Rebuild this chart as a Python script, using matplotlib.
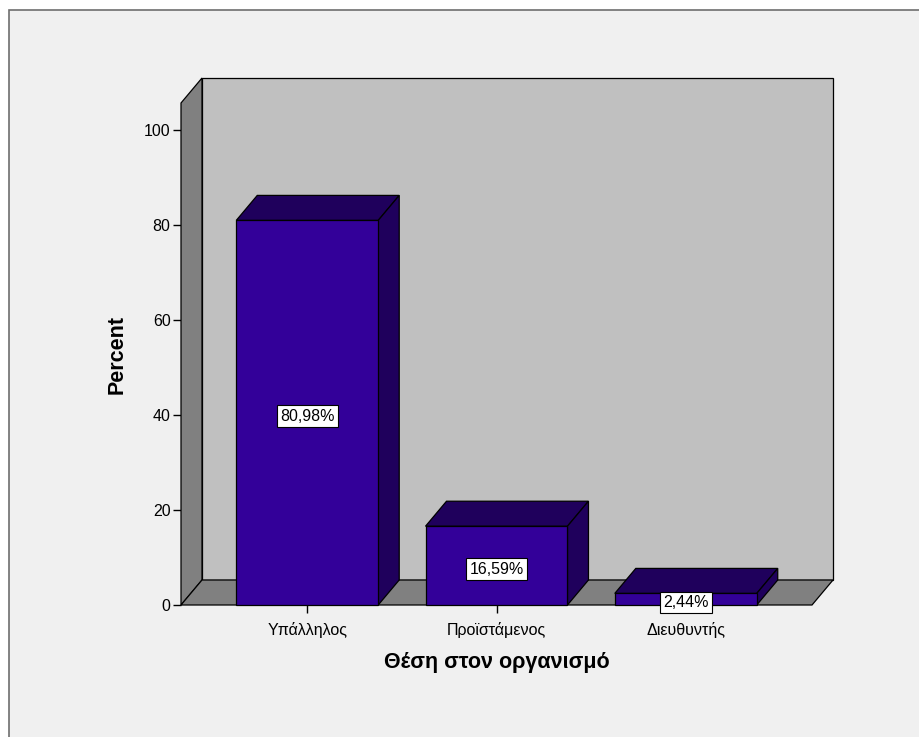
import matplotlib
matplotlib.use("Agg")
import matplotlib.pyplot as plt
from matplotlib.patches import Polygon, Rectangle
from matplotlib.transforms import offset_copy

plt.rcParams["font.family"] = ["Liberation Sans", "DejaVu Sans"]

# Percent of respondents by position in the organisation
categories = ["Υπάλληλος", "Προϊστάμενος", "Διευθυντής"]
percents = [80.98, 16.59, 2.44]
value_labels = ["80,98%", "16,59%", "2,44%"]
y_ticks = [0, 20, 40, 60, 80, 100]

FIG_W, FIG_H = 919, 737
# front plane of the 3D box, in pixels
X0_PX, X1_PX = 181, 812
Y0_PX, Y1_PX = 605, 103
DEPTH_PX = (21, 25)

XMIN, XMAX = -0.667, 2.667
YMAX = 105.7
BAR_W = 0.75

FRONT = "#330099"
SHADE = "#1f005c"
WALL = "#c0c0c0"
SIDE = "#808080"
PANEL = "#f0f0f0"

fig = plt.figure(figsize=(FIG_W / 100, FIG_H / 100), dpi=100)
fig.patch.set_facecolor("white")

# panel behind the chart
fig.patches.append(Rectangle((9 / FIG_W, -0.1), 1.2, 1 - 10 / FIG_H + 0.1,
                             transform=fig.transFigure, facecolor=PANEL,
                             edgecolor="#6e6e6e", linewidth=1.2, zorder=-5))

ax = fig.add_axes([X0_PX / FIG_W, 1 - Y0_PX / FIG_H,
                   (X1_PX - X0_PX) / FIG_W, (Y0_PX - Y1_PX) / FIG_H])
ax.set_xlim(XMIN, XMAX)
ax.set_ylim(0, YMAX)
ax.patch.set_visible(False)
for s in ax.spines.values():
    s.set_visible(False)

# depth offset in data units
dx = DEPTH_PX[0] * (XMAX - XMIN) / (X1_PX - X0_PX)
dy = DEPTH_PX[1] * YMAX / (Y0_PX - Y1_PX)


def face(pts, color, z):
    ax.add_patch(Polygon(pts, closed=True, facecolor=color, edgecolor="black",
                         linewidth=0.9, clip_on=False, zorder=z,
                         joinstyle="miter"))


# back wall, left wall and floor
face([(XMIN + dx, dy), (XMAX + dx, dy), (XMAX + dx, YMAX + dy),
      (XMIN + dx, YMAX + dy)], WALL, 1)
face([(XMIN, 0), (XMIN + dx, dy), (XMIN + dx, YMAX + dy), (XMIN, YMAX)],
     SIDE, 2)
face([(XMIN, 0), (XMAX, 0), (XMAX + dx, dy), (XMIN + dx, dy)], SIDE, 2)

# value boxes sit a touch below the middle of each bar
label_tr = offset_copy(ax.transData, fig=fig, x=0, y=-2.5, units="points")

# bars
for i, (v, lab) in enumerate(zip(percents, value_labels)):
    l, r = i - BAR_W / 2, i + BAR_W / 2
    face([(l, v), (r, v), (r + dx, v + dy), (l + dx, v + dy)], SHADE, 3)
    face([(r, 0), (r + dx, dy), (r + dx, v + dy), (r, v)], SHADE, 3)
    face([(l, 0), (r, 0), (r, v), (l, v)], FRONT, 4)
    ax.text(i, v / 2, lab, ha="center", va="center", fontsize=11.5, zorder=6,
            transform=label_tr,
            bbox=dict(boxstyle="square,pad=0.2", facecolor="white",
                      edgecolor="black", linewidth=0.8))

ax.set_xticks(range(len(categories)))
ax.set_xticklabels(categories, fontsize=11.5)
ax.set_yticks(y_ticks)
ax.set_yticklabels([str(t) for t in y_ticks], fontsize=11.5)
ax.tick_params(axis="both", length=6, width=1, color="black", pad=1.5)
ax.tick_params(axis="x", pad=6)

ax.set_ylabel("Percent", fontsize=15.5, fontweight="bold", labelpad=12)
ax.set_xlabel("Θέση στον οργανισμό", fontsize=15.5, fontweight="bold",
              labelpad=10)

fig.savefig("out.png", dpi=100)
